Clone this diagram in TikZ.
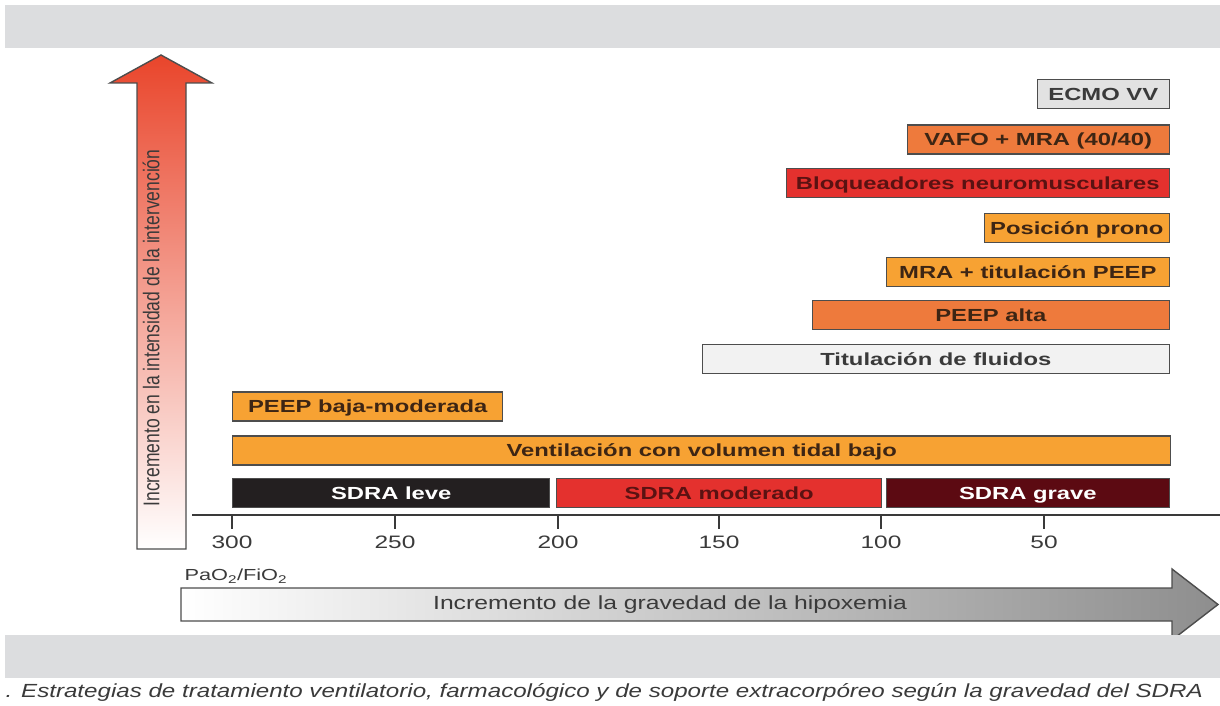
\documentclass[tikz,border=0pt]{standalone}
\usepackage{fontspec}
\setmainfont{Liberation Sans}
\newfontfamily\barfont[FakeStretch=1.36]{Liberation Sans}
\newfontfamily\capfont[FakeStretch=1.3]{Liberation Sans}
\newfontfamily\notefont[FakeStretch=1.27]{Liberation Sans}
\usepackage{graphicx}
\usepackage{tikz}

\definecolor{bandgray}{HTML}{DCDDDF}
\definecolor{amber}{HTML}{F7A233}
\definecolor{tangerine}{HTML}{EE7A3C}
\definecolor{vividred}{HTML}{E4312E}
\definecolor{maroon}{HTML}{5C0A12}
\definecolor{coal}{HTML}{231F20}
\definecolor{pale}{HTML}{F2F2F2}
\definecolor{paledark}{HTML}{E2E2E2}
\definecolor{edge}{HTML}{4D4D4D}
\definecolor{brown}{HTML}{3D2514}
\definecolor{darkred}{HTML}{5A1212}
\definecolor{arrowred}{HTML}{E9452B}
\definecolor{arrowgray}{HTML}{8E8E8E}
\definecolor{ink}{HTML}{3A3A3A}

\begin{document}
\begin{tikzpicture}[x=1pt,y=-1pt,
    bar/.style={draw=edge, line width=1.4pt, rectangle, inner sep=0pt,
        minimum height=29pt, text height=13pt, text depth=0.5pt,
        font=\barfont\bfseries\fontsize{17.5}{20}\selectfont},
    tick/.style={font=\barfont\fontsize{18}{20}\selectfont, text=ink}]
    \useasboundingbox (0,0) rectangle (1220,706);

    % Grey band on top
    \fill[bandgray] (5,5) rectangle (1220,48);

    % Vertical arrow
    \def\xend{1170} % right edge of the bars
    \path[draw=edge, line width=1.4pt, top color=arrowred, bottom color=white]
        (137,549) -- (137,83) -- (110,83) -- (161,55) -- (212,83) -- (186,83) -- (186,549) -- cycle;
    \node[rotate=90, text=ink, font=\fontsize{17.5}{20}\selectfont] (vlabel) at (151,328)
        {\scalebox{1}[1.3]{Incremento en la intensidad de la intervención}};

    % Bars of the interventions
    \node[bar, fill=paledark, text=ink, minimum width=132pt, anchor=east] (ecmo) at (\xend,94) {ECMO VV};
    \node[bar, fill=tangerine, text=brown, minimum width=262pt, anchor=east] (vafo) at (\xend,139.5) {VAFO + MRA (40/40)};
    \node[bar, fill=vividred, text=darkred, minimum width=383pt, anchor=east] (bloq) at (\xend,183) {Bloqueadores neuromusculares};
    \node[bar, fill=amber, text=brown, minimum width=185pt, anchor=east] (prono) at (\xend,228) {Posición prono};
    \node[bar, fill=amber, text=brown, minimum width=283pt, anchor=east] (mra) at (\xend,272) {MRA + titulación PEEP};
    \node[bar, fill=tangerine, text=brown, minimum width=357pt, anchor=east] (alta) at (\xend,315) {PEEP alta};
    \node[bar, fill=pale, text=ink, minimum width=467pt, anchor=east] (fluid) at (\xend,359) {Titulación de fluidos};
    \node[bar, fill=amber, text=brown, minimum width=270pt, anchor=west] (baja) at (232,406.5) {PEEP baja-moderada};
    \node[bar, fill=amber, text=brown, minimum width=938pt, anchor=west] (vent) at (232,450.5) {Ventilación con volumen tidal bajo};

    % Severity of SDRA
    \node[bar, fill=coal, text=white, minimum width=317pt, anchor=west] (leve) at (232,493) {SDRA leve};
    \node[bar, fill=vividred, text=darkred, minimum width=325pt, anchor=west] (moder) at (556,493) {SDRA moderado};
    \node[bar, fill=maroon, text=white, minimum width=283pt, anchor=east] (grave) at (\xend,493) {SDRA grave};

    % Axis with ticks
    \draw[ink, line width=2pt] (192,515) -- (1220,515);
    \draw[ink, line width=2pt] (232,515) -- (232,529);
    \draw[ink, line width=2pt] (395,515) -- (395,529);
    \draw[ink, line width=2pt] (558,515) -- (558,529);
    \draw[ink, line width=2pt] (719,515) -- (719,529);
    \draw[ink, line width=2pt] (881,515) -- (881,529);
    \draw[ink, line width=2pt] (1044,515) -- (1044,529);
    \node[tick] (t300) at (232,542) {300};
    \node[tick] (t250) at (395,542) {250};
    \node[tick] (t200) at (558,542) {200};
    \node[tick] (t150) at (719,542) {150};
    \node[tick] (t100) at (881,542) {100};
    \node[tick] (t50) at (1044,542) {50};

    % Horizontal arrow
    \node[anchor=west, text=ink, font=\barfont\fontsize{16}{18}\selectfont] (ratio) at (181,576)
        {PaO\textsubscript{2}/FiO\textsubscript{2}};
    \path[draw=edge, line width=1.4pt, left color=white, right color=arrowgray]
        (181,588) -- (1172,588) -- (1172,569) -- (1218,604.5) -- (1172,640) -- (1172,621) -- (181,621) -- cycle;
    \node[text=ink, font=\capfont\fontsize{19}{22}\selectfont] (hlabel) at (670,605)
        {Incremento de la gravedad de la hipoxemia};

    % Grey band below and caption
    \fill[bandgray] (5,635) rectangle (1220,678);
    \node[anchor=west, text=ink, font=\notefont\itshape\fontsize{19}{22}\selectfont] (caption) at (2,692)
        {. Estrategias de tratamiento ventilatorio, farmacológico y de soporte extracorpóreo según la gravedad del SDRA};
\end{tikzpicture}
\end{document}
